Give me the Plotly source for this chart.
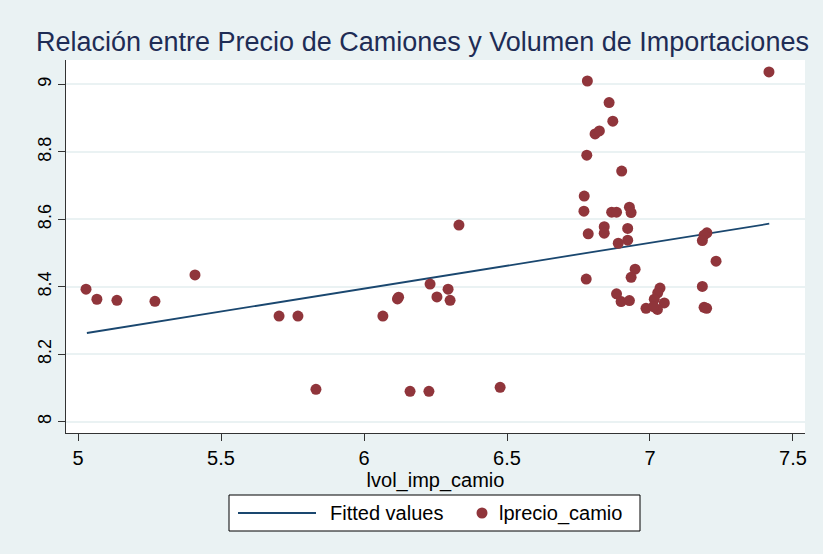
import plotly.graph_objects as go

# Observations: log import volume of trucks vs log truck price
lvol_imp_camio = [
    5.028, 5.066, 5.136, 5.269, 5.409, 5.703, 5.769, 5.832, 6.066, 6.117,
    6.121, 6.161, 6.227, 6.231, 6.255, 6.294, 6.301, 6.332, 6.476,
    6.781, 6.857, 6.870, 6.808, 6.823, 6.779, 6.901, 6.770, 6.769, 6.866,
    6.883, 6.928, 6.934, 6.840, 6.840, 6.784, 6.922, 6.922, 6.889, 6.948,
    6.934, 6.777, 6.883, 6.899, 6.928, 6.986, 7.035, 7.027, 7.015, 7.050,
    7.026, 7.012, 7.199, 7.189, 7.183, 7.231, 7.183, 7.189, 7.198, 7.416,
]
lprecio_camio = [
    8.393, 8.363, 8.360, 8.357, 8.435, 8.313, 8.313, 8.096, 8.313, 8.364,
    8.369, 8.090, 8.090, 8.408, 8.370, 8.393, 8.360, 8.583, 8.102,
    9.010, 8.946, 8.891, 8.853, 8.862, 8.790, 8.743, 8.669, 8.624, 8.621,
    8.621, 8.636, 8.620, 8.578, 8.559, 8.557, 8.573, 8.538, 8.529, 8.452,
    8.428, 8.423, 8.379, 8.356, 8.359, 8.336, 8.396, 8.382, 8.363, 8.352,
    8.333, 8.341, 8.560, 8.553, 8.537, 8.476, 8.401, 8.339, 8.336, 9.037,
]

# Linear fit line (endpoints of the fitted values)
fitted_x = [5.031, 7.417]
fitted_y = [8.263, 8.587]

x_ticks = [5, 5.5, 6, 6.5, 7, 7.5]
x_tick_labels = ["5", "5.5", "6", "6.5", "7", "7.5"]
y_ticks = [8, 8.2, 8.4, 8.6, 8.8, 9]
y_tick_labels = ["8", "8.2", "8.4", "8.6", "8.8", "9"]

FONT = "Liberation Sans, Arial, Helvetica, sans-serif"
NAVY = "#1a476f"
MAROON = "#90353b"
BG = "#eaf2f3"

fig = go.Figure()
fig.add_trace(go.Scatter(
    x=fitted_x, y=fitted_y, mode="lines", name="Fitted values",
    line=dict(color=NAVY, width=1.8), showlegend=False,
))
fig.add_trace(go.Scatter(
    x=lvol_imp_camio, y=lprecio_camio, mode="markers", name="lprecio_camio",
    marker=dict(color=MAROON, size=11, line=dict(width=0)), showlegend=False,
))

# Legend box drawn below the plot area (paper coordinates)
L, B, W, H = 66, 433, 739, 373
def px(v):
    return (v - L) / W
def py(v):
    return (B - v) / H

shapes = [
    dict(type="rect", xref="paper", yref="paper",
         x0=px(229), x1=px(640), y0=py(531), y1=py(495),
         line=dict(color="#000000", width=1), fillcolor="white", layer="below"),
    dict(type="line", xref="paper", yref="paper",
         x0=px(238), x1=px(316), y0=py(513), y1=py(513),
         line=dict(color=NAVY, width=1.8)),
    dict(type="circle", xref="paper", yref="paper",
         x0=px(476.5), x1=px(487.5), y0=py(518.5), y1=py(507.5),
         line=dict(width=0), fillcolor=MAROON),
]
annotations = [
    dict(text="Fitted values", xref="paper", yref="paper", x=px(328), y=py(513),
         xanchor="left", yanchor="middle", showarrow=False,
         font=dict(family=FONT, size=20, color="#000000")),
    dict(text="lprecio_camio", xref="paper", yref="paper", x=px(497), y=py(513),
         xanchor="left", yanchor="middle", showarrow=False,
         font=dict(family=FONT, size=20, color="#000000")),
]

fig.update_layout(
    width=823, height=554,
    margin=dict(l=66, r=18, t=60, b=121),
    paper_bgcolor=BG, plot_bgcolor="white",
    font=dict(family=FONT, color="#000000"),
    title=dict(
        text="Relación entre Precio de Camiones y Volumen de Importaciones",
        x=36 / 823, xref="container", xanchor="left",
        y=1 - 42 / 554, yref="container", yanchor="middle",
        font=dict(family=FONT, size=27, color="#1e2c55"),
    ),
    xaxis=dict(
        range=[4.958, 7.542], tickvals=x_ticks, ticktext=x_tick_labels,
        showgrid=False, zeroline=False, showline=True, linecolor="#333333",
        linewidth=1, ticks="outside", ticklen=7, tickcolor="#333333",
        tickfont=dict(size=20), title=dict(text="lvol_imp_camio", font=dict(size=20), standoff=0),
    ),
    yaxis=dict(
        range=[7.9665, 9.0723], tickvals=y_ticks, ticktext=y_tick_labels,
        showgrid=True, gridcolor=BG, gridwidth=1.5, zeroline=False,
        showline=True, linecolor="#333333", linewidth=1,
        ticks="outside", ticklen=7, tickcolor="#333333",
        tickangle=-90, tickfont=dict(size=18),
    ),
    shapes=shapes, annotations=annotations,
)

fig.write_html("out.html")
